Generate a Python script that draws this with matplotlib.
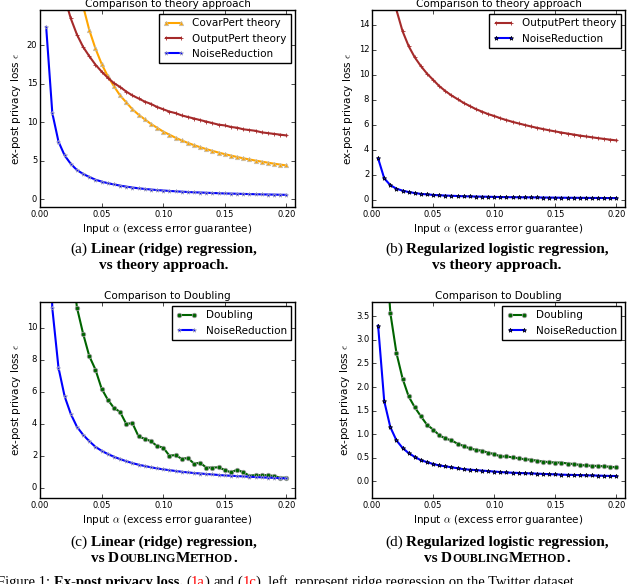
import matplotlib
matplotlib.use("Agg")
import matplotlib.pyplot as plt

plt.style.use("classic")
plt.rcParams["font.family"] = "DejaVu Sans"
plt.rcParams["mathtext.fontset"] = "cm"
plt.rcParams["savefig.facecolor"] = "white"
plt.rcParams["figure.facecolor"] = "white"

# alpha grid 0.005 .. 0.200
alpha = [0.005, 0.010, 0.015, 0.020, 0.025, 0.030, 0.035, 0.040, 0.045, 0.050,
         0.055, 0.060, 0.065, 0.070, 0.075, 0.080, 0.085, 0.090, 0.095, 0.100,
         0.105, 0.110, 0.115, 0.120, 0.125, 0.130, 0.135, 0.140, 0.145, 0.150,
         0.155, 0.160, 0.165, 0.170, 0.175, 0.180, 0.185, 0.190, 0.195, 0.200]

# ridge regression
ridge_noise = [22.4, 11.2, 7.5, 5.7, 4.6, 3.8, 3.3, 2.9, 2.55, 2.3,
               2.1, 1.93, 1.78, 1.65, 1.53, 1.43, 1.35, 1.27, 1.2, 1.14,
               1.09, 1.04, 0.99, 0.95, 0.91, 0.88, 0.85, 0.82, 0.79, 0.76,
               0.74, 0.72, 0.70, 0.68, 0.66, 0.64, 0.62, 0.61, 0.59, 0.58]
ridge_covar = [176.0, 88.0, 58.7, 44.0, 35.2, 29.3, 25.1, 22.0, 19.6, 17.6,
               16.0, 14.7, 13.5, 12.6, 11.7, 11.0, 10.4, 9.8, 9.3, 8.8,
               8.4, 8.0, 7.65, 7.33, 7.04, 6.77, 6.52, 6.29, 6.07, 5.87,
               5.68, 5.5, 5.33, 5.18, 5.03, 4.89, 4.76, 4.63, 4.51, 4.4]
ridge_output = [52.5, 37.1, 30.3, 26.2, 23.5, 21.4, 19.8, 18.6, 17.5, 16.6,
                15.8, 15.1, 14.6, 14.0, 13.5, 13.1, 12.7, 12.4, 12.0, 11.7,
                11.4, 11.2, 10.9, 10.7, 10.5, 10.3, 10.1, 9.9, 9.7, 9.6,
                9.4, 9.3, 9.1, 9.0, 8.9, 8.7, 8.6, 8.5, 8.4, 8.3]
ridge_doubling = [40.0, 22.0, 17.5, 14.5, 14.5, 11.25, 9.62, 8.22, 7.38, 6.19,
                  5.5, 4.98, 4.73, 3.98, 4.03, 3.2, 3.05, 2.9, 2.6, 2.5,
                  2.0, 2.03, 1.8, 1.85, 1.5, 1.55, 1.25, 1.25, 1.27, 1.1,
                  0.95, 1.12, 0.95, 0.75, 0.78, 0.78, 0.78, 0.72, 0.62, 0.62]

# logistic regression
logit_noise = [3.3, 1.7, 1.15, 0.87, 0.71, 0.6, 0.52, 0.45, 0.41, 0.37,
               0.34, 0.32, 0.3, 0.28, 0.26, 0.25, 0.24, 0.23, 0.22, 0.21,
               0.2, 0.19, 0.185, 0.18, 0.175, 0.17, 0.165, 0.16, 0.155, 0.15,
               0.145, 0.14, 0.138, 0.135, 0.13, 0.127, 0.124, 0.12, 0.117, 0.115]
logit_output = [30.0, 21.2, 17.5, 15.2, 13.5, 12.3, 11.4, 10.7, 10.1, 9.6,
                9.1, 8.7, 8.35, 8.05, 7.75, 7.5, 7.25, 7.05, 6.85, 6.7,
                6.52, 6.37, 6.23, 6.1, 5.98, 5.86, 5.75, 5.65, 5.55, 5.46,
                5.37, 5.29, 5.21, 5.13, 5.06, 4.99, 4.92, 4.86, 4.8, 4.74]
logit_doubling = [9.0, 5.5, 3.57, 2.72, 2.18, 1.8, 1.57, 1.38, 1.2, 1.1,
                  0.98, 0.91, 0.87, 0.8, 0.75, 0.7, 0.67, 0.65, 0.61, 0.58,
                  0.53, 0.53, 0.51, 0.49, 0.47, 0.46, 0.44, 0.42, 0.41, 0.40,
                  0.40, 0.38, 0.37, 0.35, 0.34, 0.33, 0.33, 0.32, 0.31, 0.30]

W, H = 640, 584
fig = plt.figure(figsize=(W / 100, H / 100), dpi=100)


def make_axes(left, top, right, bottom):
    return fig.add_axes([left / W, 1 - bottom / H, (right - left) / W, (bottom - top) / H])


def style(ax, title, ylim, yticks):
    ax.set_xlim(0, 0.207)
    ax.set_ylim(*ylim)
    ax.set_xticks([0.0, 0.05, 0.10, 0.15, 0.20])
    ax.set_xticklabels(["0.00", "0.05", "0.10", "0.15", "0.20"])
    ax.set_yticks(yticks)
    ax.tick_params(labelsize=6, length=3, pad=2)
    ax.set_title(title, fontsize=7.5, pad=2)
    ax.set_xlabel(r"Input $\alpha$ (excess error guarantee)", fontsize=7.5, labelpad=2)
    ax.set_ylabel(r"ex-post privacy loss $\epsilon$", fontsize=7.5, labelpad=3)
    ax.legend(loc="upper right", fontsize=7.5, handlelength=2.0, borderpad=0.4,
              labelspacing=0.5, handletextpad=0.8, borderaxespad=0.4)


lw = 1.5
ms = 3.2
ax = make_axes(40, 10, 295, 207)
ax.plot(alpha, ridge_covar, color="orange", marker="^", ms=ms, mec="0.75", mew=0.5, lw=lw,
        label="CovarPert theory")
ax.plot(alpha, ridge_output, color="brown", marker="+", ms=ms, mew=0.6, lw=lw,
        label="OutputPert theory")
ax.plot(alpha, ridge_noise, color="blue", marker="*", ms=ms, mec="0.7", mew=0.4, lw=lw,
        label="NoiseReduction")
style(ax, "Comparison to theory approach", (-1.0, 24.6), [0, 5, 10, 15, 20])

ax = make_axes(372, 10, 625, 207)
ax.plot(alpha, logit_output, color="brown", marker="+", ms=ms, mew=0.6, lw=lw,
        label="OutputPert theory")
ax.plot(alpha, logit_noise, color="blue", marker="*", ms=ms, mec="k", mew=0.5, lw=lw,
        label="NoiseReduction")
style(ax, "Comparison to theory approach", (-0.6, 15.2), [0, 2, 4, 6, 8, 10, 12, 14])

ax = make_axes(40, 302, 295, 498)
ax.plot(alpha, ridge_doubling, color="darkgreen", marker="o", ms=ms, mec="0.6", mew=0.6, lw=lw,
        label="Doubling")
ax.plot(alpha, ridge_noise, color="blue", marker="*", ms=ms, mec="0.7", mew=0.4, lw=lw,
        label="NoiseReduction")
style(ax, "Comparison to Doubling", (-0.65, 11.6), [0, 2, 4, 6, 8, 10])

ax = make_axes(372, 302, 625, 498)
ax.plot(alpha, logit_doubling, color="darkgreen", marker="o", ms=ms, mec="0.6", mew=0.6, lw=lw,
        label="Doubling")
ax.plot(alpha, logit_noise, color="blue", marker="*", ms=ms, mec="k", mew=0.5, lw=lw,
        label="NoiseReduction")
style(ax, "Comparison to Doubling", (-0.35, 3.8), [0.0, 0.5, 1.0, 1.5, 2.0, 2.5, 3.0, 3.5])
ax.set_yticklabels(["0.0", "0.5", "1.0", "1.5", "2.0", "2.5", "3.0", "3.5"])

# captions, drawn piece by piece so bold / small caps can be mixed
renderer = fig.canvas.get_renderer()
serif = "Liberation Serif"


def rich_line(xc, y, pieces, align="center"):
    items = []
    total = 0
    for s, size, weight, color, gap in pieces:
        t = fig.text(0, 1 - y / H, s, fontsize=size, fontweight=weight, color=color,
                     family=serif, va="baseline", ha="left")
        w = t.get_window_extent(renderer).width
        items.append((t, w, gap))
        total += w + gap
    x = xc - total / 2 if align == "center" else xc
    for t, w, gap in items:
        t.set_x(x / W)
        x += w + gap


big, small = 11, 8.6
sp = 3.5
doubling_line = [("vs", big, "bold", "black", sp), ("D", big, "bold", "black", 0),
                 ("OUBLING", small, "bold", "black", 0), ("M", big, "bold", "black", 0),
                 ("ETHOD", small, "bold", "black", 0), (".", big, "bold", "black", 0)]
rich_line(164, 253, [("(a)", big, "normal", "black", sp),
                     ("Linear (ridge) regression,", big, "bold", "black", 0)])
rich_line(164, 269, [("vs theory approach.", big, "bold", "black", 0)])
rich_line(497, 253, [("(b)", big, "normal", "black", sp),
                     ("Regularized logistic regression,", big, "bold", "black", 0)])
rich_line(497, 269, [("vs theory approach.", big, "bold", "black", 0)])
rich_line(164, 546, [("(c)", big, "normal", "black", sp),
                     ("Linear (ridge) regression,", big, "bold", "black", 0)])
rich_line(164, 562, doubling_line)
rich_line(497, 546, [("(d)", big, "normal", "black", sp),
                     ("Regularized logistic regression,", big, "bold", "black", 0)])
rich_line(497, 562, doubling_line)

# figure caption, cut off by the bottom edge
fs = 10.5
rich_line(-3, 586, [("Figure 1:", fs, "normal", "black", sp),
                    ("Ex-post privacy loss.", fs, "bold", "black", sp),
                    ("(", fs, "normal", "black", 0), ("1a", fs, "normal", "red", 0),
                    (")", fs, "normal", "black", sp), ("and", fs, "normal", "black", sp),
                    ("(", fs, "normal", "black", 0), ("1c", fs, "normal", "red", 0),
                    (")", fs, "normal", "black", 0),
                    (", left, represent ridge regression on the Twitter dataset", fs, "normal",
                     "black", 0)],
          align="left")

fig.savefig("out.png", dpi=100)
